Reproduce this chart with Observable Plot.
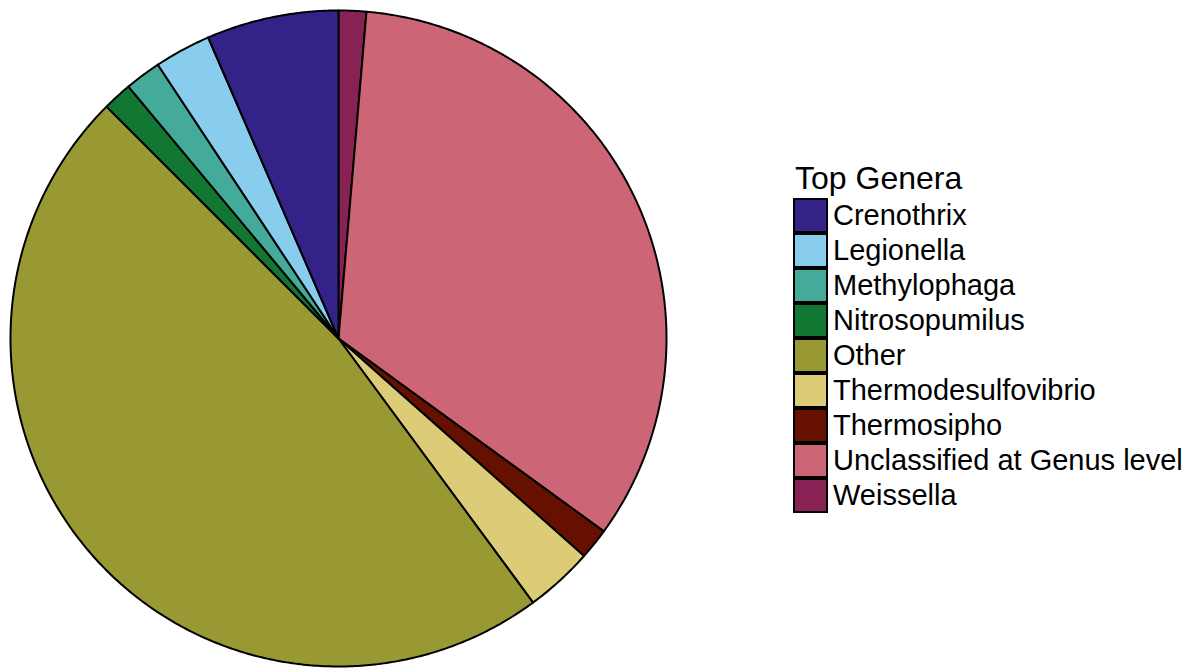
<!DOCTYPE html>
<html>
<head>
<meta charset="utf-8">
<script src="https://cdn.jsdelivr.net/npm/d3@7"></script>
<script src="https://cdn.jsdelivr.net/npm/@observablehq/plot@0.6"></script>
<style>
  html, body { margin: 0; padding: 0; background: #fff; }
  #wrap { position: relative; width: 1199px; height: 668px; overflow: hidden; font-family: "Liberation Sans", Arial, Helvetica, sans-serif; }
  #chart { position: absolute; left: 0; top: 0; }
  #legend { position: absolute; left: 795px; top: 158px; color: #000; }
  #legend .title { font-size: 32px; line-height: 40px; margin-left: 0px; }
  #legend .row { display: flex; align-items: center; height: 35px; }
  #legend .sw { width: 31px; height: 31px; border: 2px solid #000; box-sizing: content-box; margin-left: -2px; }
  #legend .lab { font-size: 29px; margin-left: 5px; line-height: 35px; }
</style>
</head>
<body>
<div id="wrap">
  <div id="chart"></div>
  <div id="legend"></div>
</div>
<script>
// Data (legend order)
const genera = ["Crenothrix", "Legionella", "Methylophaga", "Nitrosopumilus", "Other",
                "Thermodesulfovibrio", "Thermosipho", "Unclassified at Genus level", "Weissella"];
const shares = [6.5, 2.78, 1.78, 1.44, 47.6, 3.36, 1.53, 33.64, 1.36];
const colors = ["#332288", "#88CCEE", "#44AA99", "#117733", "#999933",
                "#DDCC77", "#661100", "#CC6677", "#882255"];
const legendTitle = "Top Genera";

// Pie goes clockwise from 12 o'clock in reverse legend order
const order = genera.map((g, i) => i).reverse();
const total = d3.sum(shares);
const pts = [];
let cum = 0;
for (const i of order) {
  const a0 = cum / total * 2 * Math.PI;
  cum += shares[i];
  const a1 = cum / total * 2 * Math.PI;
  const g = genera[i];
  pts.push({genus: g, x: 0, y: 0});
  const n = Math.max(2, Math.ceil((a1 - a0) / (Math.PI / 360)));
  for (let k = 0; k <= n; k++) {
    const a = a0 + (a1 - a0) * k / n;
    pts.push({genus: g, x: Math.sin(a), y: Math.cos(a)});
  }
  pts.push({genus: g, x: 0, y: 0});
}

const cx = 338, cy = 338, r = 328;
const plot = Plot.plot({
  width: 680,
  height: 668,
  margin: 0,
  x: {domain: [-1, 1], range: [cx - r, cx + r], axis: null},
  y: {domain: [-1, 1], range: [cy + r, cy - r], axis: null},
  color: {domain: genera, range: colors},
  marks: [
    Plot.line(pts, {x: "x", y: "y", z: "genus", fill: "genus", stroke: "#000",
                    strokeWidth: 2, strokeLinejoin: "round", curve: "linear"})
  ]
});
document.getElementById("chart").appendChild(plot);

// Legend
const color = plot.scale("color");
const leg = document.getElementById("legend");
const t = document.createElement("div");
t.className = "title";
t.textContent = legendTitle;
leg.appendChild(t);
genera.forEach((g, i) => {
  const row = document.createElement("div");
  row.className = "row";
  const sw = document.createElement("div");
  sw.className = "sw";
  sw.style.background = color.apply(g);
  const lab = document.createElement("div");
  lab.className = "lab";
  lab.textContent = g;
  row.appendChild(sw);
  row.appendChild(lab);
  leg.appendChild(row);
});
</script>
</body>
</html>
